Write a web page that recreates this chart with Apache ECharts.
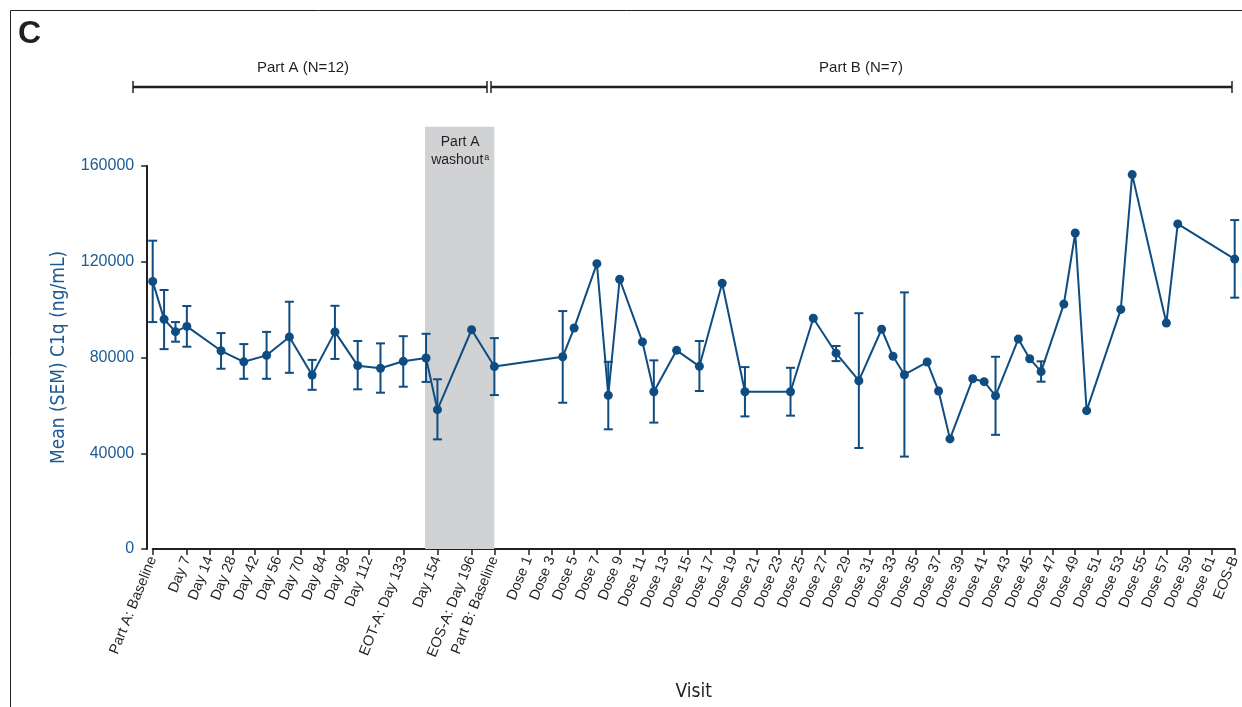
<!DOCTYPE html>
<html><head><meta charset="utf-8">
<script src="https://cdn.jsdelivr.net/npm/echarts@6/dist/echarts.min.js"></script>
<style>html,body{margin:0;padding:0;background:#fff}#c{width:1242px;height:707px}</style>
</head><body><div id="c"></div>
<script>
// Visit slots (unlabeled slots are '')
const visits = [
  'Part A: Baseline','','','Day 7','','Day 14','','Day 28','','Day 42',
  '','Day 56','','Day 70','','Day 84','','Day 98','','Day 112',
  '','','EOT-A: Day 133','','','Day 154','','','EOS-A: Day 196','',
  'Part B: Baseline','','','Dose 1','','Dose 3','','Dose 5','','Dose 7',
  '','Dose 9','','Dose 11','','Dose 13','','Dose 15','','Dose 17',
  '','Dose 19','','Dose 21','','Dose 23','','Dose 25','','Dose 27',
  '','Dose 29','','Dose 31','','Dose 33','','Dose 35','','Dose 37',
  '','Dose 39','','Dose 41','','Dose 43','','Dose 45','','Dose 47',
  '','Dose 49','','Dose 51','','Dose 53','','Dose 55','','Dose 57',
  '','Dose 59','','Dose 61','','EOS-B'
];
const meanC1q = [
  111800, 96000, 90800, 93000, null, null, 82800, null, 78200, null,
  80900, null, 88600, null, 72700, null, 90700, null, 76600, null,
  75500, null, 78400, null, 79800, 58200, null, null, 91600, null,
  76200, null, null, null, null, null, 80300, 92300, null, 119200,
  64200, 112700, null, 86500, 65700, null, 83000, null, 76300, null,
  111000, null, 65700, null, null, null, 65700, null, 96400, null,
  81800, null, 70300, null, 91800, 80500, 72800, null, 78100, 66000,
  46000, null, 71100, 69900, 64000, null, 87700, 79500, 74100, null,
  102300, 132000, 57800, null, null, 100100, 156400, null, null, 94400,
  135800, null, null, null, null, 121100
];
const semLow = [
  94800, 83500, 86600, 84500, null, null, 75300, null, 71100, null,
  71100, null, 73600, null, 66500, null, 79400, null, 66700, null,
  65300, null, 67800, null, 69800, 45800, null, null, null, null,
  64300, null, null, null, null, null, 61100, null, null, null,
  50000, null, null, null, 52800, null, null, null, 66000, null,
  null, null, 55400, null, null, null, 55700, null, null, null,
  78500, null, 42200, null, null, null, 38600, null, null, null,
  null, null, null, null, 47700, null, null, null, 69900, null,
  null, null, null, null, null, null, null, null, null, null,
  null, null, null, null, null, 105000
];
const semHigh = [
  128800, 108200, 94800, 101500, null, null, 90200, null, 85600, null,
  90700, null, 103300, null, 79000, null, 101600, null, 86900, null,
  85900, null, 88900, null, 89900, 70900, null, null, null, null,
  88100, null, null, null, null, null, 99400, null, null, null,
  78200, null, null, null, 78800, null, null, null, 86900, null,
  null, null, 76000, null, null, null, 75700, null, null, null,
  84800, null, 98500, null, null, null, 107200, null, null, null,
  null, null, null, null, 80300, null, null, null, 78400, null,
  null, null, null, null, null, null, null, null, null, null,
  null, null, null, null, null, 137400
];
const yTicks = [0, 40000, 80000, 120000, 160000];
const washoutSlots = [24, 30];
const washoutTop = 176400;

const BLUE = '#0f4c81';
const DARK = '#231f20';
const NARROW = "'Liberation Sans Narrow','DejaVu Sans Condensed','Liberation Sans',sans-serif";
const SANS = "'Liberation Sans',Arial,sans-serif";

const errData = [];
semLow.forEach((lo, i) => { if (lo != null) errData.push([i, lo, semHigh[i]]); });
const shown = (idx, val) => val !== '';

const chart = echarts.init(document.getElementById('c'), null, {renderer: 'canvas'});
chart.setOption({
  animation: false,
  backgroundColor: '#fff',
  grid: {left: 152.7, right: 7.3, top: 166, bottom: 158, outerBoundsMode: 'none', containLabel: false},
  xAxis: {
    type: 'category', data: visits, boundaryGap: false,
    axisLine: {lineStyle: {color: DARK, width: 2}},
    axisTick: {interval: shown, length: 6, lineStyle: {color: DARK, width: 1.5}},
    axisLabel: {interval: shown, rotate: 68, fontSize: 14.5, color: DARK, fontFamily: SANS, margin: 8},
    splitLine: {show: false},
    name: 'Visit', nameLocation: 'middle', nameGap: 134,
    nameTextStyle: {fontSize: 19, color: DARK, fontFamily: NARROW}
  },
  yAxis: {
    type: 'value', min: yTicks[0], max: yTicks[yTicks.length - 1], interval: yTicks[1] - yTicks[0],
    offset: 5.5,
    axisLine: {show: true, lineStyle: {color: DARK, width: 2}},
    axisTick: {show: true, length: 6, lineStyle: {color: DARK, width: 1.5}},
    axisLabel: {fontSize: 16, color: '#1e5a91', fontFamily: SANS, margin: 13, formatter: v => String(v)},
    splitLine: {show: false},
    name: 'Mean (SEM) C1q (ng/mL)', nameLocation: 'middle', nameGap: 79, nameRotate: 90,
    nameTextStyle: {fontSize: 19, color: '#1e5a91', fontFamily: NARROW}
  },
  series: [
    {
      type: 'custom', z: 1, clip: false, silent: true,
      data: [[washoutSlots[0], washoutSlots[1], 0, washoutTop]],
      encode: {x: [0, 1], y: [2, 3]},
      renderItem: (params, api) => {
        const p0 = api.coord([api.value(0), api.value(2)]);
        const p1 = api.coord([api.value(1), api.value(3)]);
        const cx = (p0[0] + p1[0]) / 2;
        return {type: 'group', children: [
          {type: 'rect', shape: {x: p0[0] - 1, y: p1[1], width: p1[0] - p0[0] + 1, height: p0[1] - p1[1]},
           style: {fill: '#d1d2d4'}},
          {type: 'text', x: cx, y: p1[1] + 8,
           style: {text: 'Part A', fill: DARK, font: '14px ' + SANS, align: 'center', verticalAlign: 'top'}},
          {type: 'text', x: cx, y: p1[1] + 26,
           style: {text: '{w|washout}{s|a}', align: 'center', verticalAlign: 'top',
             rich: {w: {fontSize: 14, fontFamily: SANS, fill: DARK, color: DARK},
                    s: {fontSize: 9, fontFamily: SANS, fill: DARK, color: DARK, verticalAlign: 'top', padding: [0, 0, 6, 1]}}}}
        ]};
      }
    },
    {
      type: 'custom', z: 3, clip: false,
      data: errData,
      encode: {x: 0, y: [1, 2]},
      renderItem: (params, api) => {
        const lo = api.coord([api.value(0), api.value(1)]);
        const hi = api.coord([api.value(0), api.value(2)]);
        const w = 4.5;
        const st = {stroke: BLUE, lineWidth: 2};
        return {type: 'group', children: [
          {type: 'line', shape: {x1: lo[0], y1: lo[1], x2: hi[0], y2: hi[1]}, style: st},
          {type: 'line', shape: {x1: lo[0] - w, y1: lo[1], x2: lo[0] + w, y2: lo[1]}, style: st},
          {type: 'line', shape: {x1: hi[0] - w, y1: hi[1], x2: hi[0] + w, y2: hi[1]}, style: st}
        ]};
      }
    },
    {
      type: 'line', z: 4, data: meanC1q, connectNulls: true,
      showAllSymbol: true, symbol: 'circle', symbolSize: 9,
      lineStyle: {color: BLUE, width: 2}, itemStyle: {color: BLUE},
      emphasis: {disabled: true}
    }
  ],
  graphic: [
    {type: 'line', shape: {x1: 10.5, y1: 10.5, x2: 1242, y2: 10.5}, style: {stroke: DARK, lineWidth: 1}},
    {type: 'line', shape: {x1: 10.5, y1: 10.5, x2: 10.5, y2: 707}, style: {stroke: DARK, lineWidth: 1}},
    {type: 'text', x: 18, y: 18, style: {text: 'C', font: 'bold 32px ' + SANS, fill: DARK}},
    {type: 'line', shape: {x1: 133, y1: 87, x2: 487, y2: 87}, style: {stroke: DARK, lineWidth: 2.5}},
    {type: 'line', shape: {x1: 133, y1: 81, x2: 133, y2: 93}, style: {stroke: DARK, lineWidth: 1.5}},
    {type: 'line', shape: {x1: 487, y1: 81, x2: 487, y2: 93}, style: {stroke: DARK, lineWidth: 1.5}},
    {type: 'text', x: 303, y: 68, style: {text: 'Part A (N=12)', font: '15px ' + SANS, fill: DARK, align: 'center', verticalAlign: 'middle'}},
    {type: 'line', shape: {x1: 491, y1: 87, x2: 1232, y2: 87}, style: {stroke: DARK, lineWidth: 2.5}},
    {type: 'line', shape: {x1: 491, y1: 81, x2: 491, y2: 93}, style: {stroke: DARK, lineWidth: 1.5}},
    {type: 'line', shape: {x1: 1232, y1: 81, x2: 1232, y2: 93}, style: {stroke: DARK, lineWidth: 1.5}},
    {type: 'text', x: 861, y: 68, style: {text: 'Part B (N=7)', font: '15px ' + SANS, fill: DARK, align: 'center', verticalAlign: 'middle'}}
  ]
});
</script>
</body></html>
